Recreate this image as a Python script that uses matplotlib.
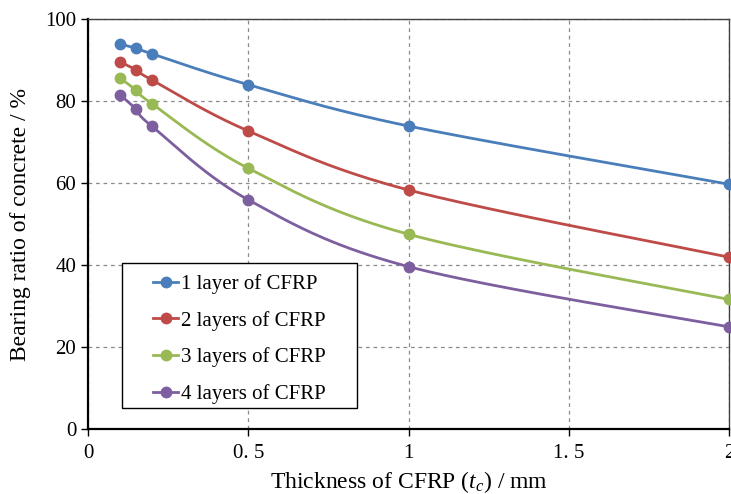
import numpy as np
import matplotlib
matplotlib.use("Agg")
import matplotlib.pyplot as plt
from matplotlib.lines import Line2D
from matplotlib.patches import Rectangle

plt.rcParams['font.family'] = ['Liberation Serif', 'DejaVu Serif']
plt.rcParams['mathtext.fontset'] = 'custom'
plt.rcParams['mathtext.it'] = 'Liberation Serif:italic'
plt.rcParams['mathtext.rm'] = 'Liberation Serif'

thickness = [0.1, 0.15, 0.2, 0.5, 1.0, 2.0]
layer1 = [93.9, 92.9, 91.5, 84.0, 73.9, 59.7]
layer2 = [89.5, 87.6, 85.1, 72.7, 58.3, 41.9]
layer3 = [85.6, 82.7, 79.3, 63.6, 47.5, 31.6]
layer4 = [81.5, 78.0, 73.8, 55.9, 39.6, 24.9]
series_names = ["1 layer of CFRP", "2 layers of CFRP", "3 layers of CFRP", "4 layers of CFRP"]
series_colors = ["#4A7EBB", "#BE4B48", "#98B954", "#7D5FA0"]
x_ticks = [0, 0.5, 1, 1.5, 2]
x_tick_labels = ["0", "0. 5", "1", "1. 5", "2"]
y_ticks = [0, 20, 40, 60, 80, 100]


def smooth(xs, ys, n=40):
    """Catmull-Rom style cubic Bezier through the points (spreadsheet smoothing)."""
    p = np.column_stack([xs, ys]).astype(float)
    pts = np.vstack([p[0], p, p[-1]])
    out = []
    for i in range(1, len(pts) - 2):
        p0, p1, p2, p3 = pts[i - 1], pts[i], pts[i + 1], pts[i + 2]
        c1 = p1 + (p2 - p0) / 6.0
        c2 = p2 - (p3 - p1) / 6.0
        t = np.linspace(0, 1, n)[:, None]
        seg = ((1 - t) ** 3) * p1 + 3 * ((1 - t) ** 2) * t * c1 + 3 * (1 - t) * t ** 2 * c2 + t ** 3 * p2
        out.append(seg if i == 1 else seg[1:])
    seg = np.vstack(out)
    return seg[:, 0], seg[:, 1]


fig = plt.figure(figsize=(7.31, 4.94), dpi=100)
ax = fig.add_axes([0.1204, 0.1316, 0.8769, 0.8299])

handles = []
for vals, name, col in zip([layer1, layer2, layer3, layer4], series_names, series_colors):
    sx, sy = smooth(thickness, vals)
    ax.plot(sx, sy, color=col, lw=2.0, solid_capstyle='round', zorder=3, clip_on=False)
    ax.plot(thickness, vals, 'o', color=col, ms=7.5, zorder=4, clip_on=False)
    handles.append(Line2D([0], [0], color=col, lw=2.0, marker='o', ms=7.5))

ax.set_xlim(0, 2)
ax.set_ylim(0, 100)
ax.set_xticks(x_ticks)
ax.set_xticklabels(x_tick_labels)
ax.set_yticks(y_ticks)
ax.tick_params(axis='both', direction='out', length=5, width=1, labelsize=15, colors='black')
ax.tick_params(axis='x', pad=6)
ax.grid(True, color='#8c8c8c', linestyle=(0, (3, 3)), linewidth=0.9)
ax.set_axisbelow(True)

for side in ['left', 'bottom']:
    ax.spines[side].set_color('black')
    ax.spines[side].set_linewidth(1.6)
for side in ['top', 'right']:
    ax.spines[side].set_color('#404040')
    ax.spines[side].set_linewidth(1.0)

ax.set_xlabel(r"Thickness of CFRP ($t_c$) / mm", fontsize=17, labelpad=4)
ax.set_ylabel("Bearing ratio of concrete / %", fontsize=17, labelpad=10)

# legend box drawn separately so the padding around the entries can be wide
box = Rectangle((0.053, 0.0511), 0.3667, 0.3529, transform=ax.transAxes,
                facecolor='white', edgecolor='black', linewidth=1.0, zorder=5)
ax.add_patch(box)
leg = ax.legend(handles, series_names, loc='upper left', bbox_to_anchor=(0.1014, 0.378),
                fontsize=15, frameon=False, handlelength=1.2,
                handletextpad=0.15, labelspacing=0.81, borderpad=0, borderaxespad=0)
leg.set_zorder(6)

fig.savefig("out.png", dpi=100)
